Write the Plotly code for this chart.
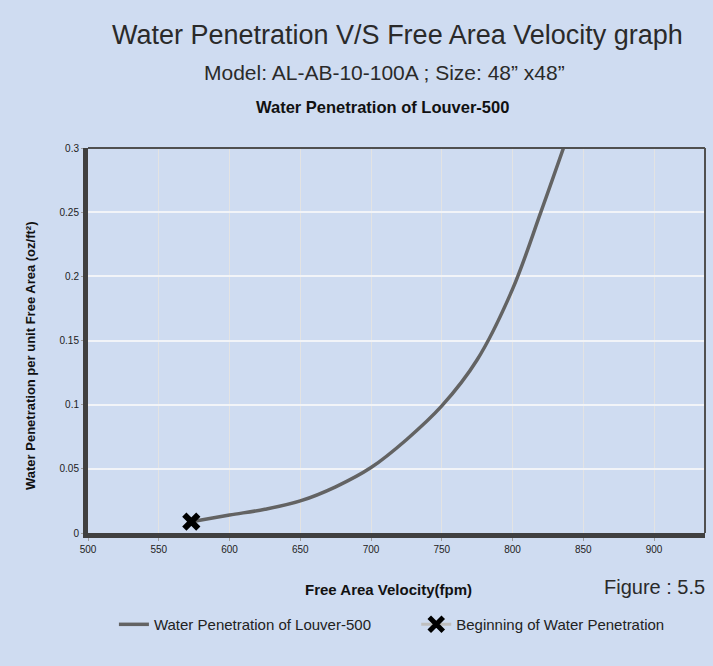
import plotly.graph_objects as go

# Data
velocity = [573, 600, 625, 650, 675, 700, 725, 750, 775, 800, 820, 836]
penetration = [0.0088, 0.014, 0.0185, 0.025, 0.036, 0.051, 0.0727, 0.099, 0.135, 0.19, 0.25, 0.30]
begin_velocity = [573]
begin_penetration = [0.0088]

x_ticks = [500, 550, 600, 650, 700, 750, 800, 850, 900]
y_ticks = [0, 0.05, 0.1, 0.15, 0.2, 0.25, 0.3]
y_labels = ["0", "0.05", "0.1", "0.15", "0.2", "0.25", "0.3"]

BG = "#CFDCF1"
FONT = "Liberation Sans, Arial, sans-serif"

fig = go.Figure()
fig.add_trace(go.Scatter(
    x=velocity, y=penetration, mode="lines", line_shape="spline",
    line=dict(color="#636363", width=3.5),
    name="Water Penetration of Louver-500", legend="legend",
))
fig.add_trace(go.Scatter(
    x=begin_velocity, y=begin_penetration, mode="lines+markers",
    line=dict(color="#BFBFBF", width=3),
    marker=dict(symbol="x-thin", size=14, color="black",
                line=dict(color="black", width=6)),
    name="Beginning of Water Penetration", legend="legend2",
))

legend_common = dict(orientation="h", yanchor="top", xanchor="left",
                     font=dict(size=15, color="#222222", family=FONT),
                     bgcolor="rgba(0,0,0,0)", itemwidth=30)

fig.update_layout(
    width=713, height=666,
    paper_bgcolor=BG, plot_bgcolor=BG,
    margin=dict(l=88, r=8, t=148, b=133),
    font=dict(family=FONT, color="#222222"),
    showlegend=True,
    legend=dict(x=0.042, y=-0.195, **legend_common),
    legend2=dict(x=0.532, y=-0.195, **legend_common),
    xaxis=dict(range=[500, 936], tickvals=x_ticks, ticktext=[str(v) for v in x_ticks],
               showgrid=True, gridcolor="#E3E3E3", gridwidth=1,
               showline=True, linecolor="#404040", linewidth=5, mirror=False,
               ticks="outside", ticklen=3, tickcolor="#A0A0A0",
               tickfont=dict(size=10, color="#222222"), zeroline=False),
    yaxis=dict(range=[0, 0.3], tickvals=y_ticks, ticktext=y_labels,
               showgrid=True, gridcolor="#F2F4F8", gridwidth=2,
               showline=True, linecolor="#404040", linewidth=5, mirror=False,
               ticks="outside", ticklen=2, tickcolor="#A0A0A0",
               tickfont=dict(size=10, color="#222222"), zeroline=False),
    shapes=[
        dict(type="line", xref="paper", yref="paper", x0=0, x1=1, y0=1, y1=1,
             line=dict(color="#505050", width=2)),
        dict(type="line", xref="paper", yref="paper", x0=1, x1=1, y0=0, y1=1,
             line=dict(color="#505050", width=2)),
    ],
    annotations=[
        dict(text="Water Penetration V/S Free Area Velocity graph", xref="paper", yref="paper",
             x=(397 - 88) / 617, y=1.0, yanchor="middle", yshift=148 - 35, showarrow=False,
             font=dict(size=27, color="#2a2a2a", family=FONT)),
        dict(text="Model: AL-AB-10-100A ; Size: 48” x48”", xref="paper", yref="paper",
             x=(384 - 88) / 617, y=1.0, yanchor="middle", yshift=148 - 72, showarrow=False,
             font=dict(size=21, color="#2a2a2a", family=FONT)),
        dict(text="<b>Water Penetration of Louver-500</b>", xref="paper", yref="paper",
             x=(382 - 88) / 617, y=1.0, yanchor="middle", yshift=148 - 107, showarrow=False,
             font=dict(size=16.5, color="#111111", family=FONT)),
        dict(text="<b>Free Area Velocity(fpm)</b>", xref="paper", yref="paper",
             x=(388 - 88) / 617, y=0, yanchor="middle", yshift=-(589 - 533), showarrow=False,
             font=dict(size=15, color="#111111", family=FONT)),
        dict(text="<b>Water Penetration per unit Free Area (oz/ft²)</b>", xref="paper", yref="paper",
             x=0, xanchor="center", xshift=30 - 88, y=(533 - 356) / 385, yanchor="middle",
             textangle=-90, showarrow=False,
             font=dict(size=13, color="#111111", family=FONT)),
        dict(text="Figure : 5.5", xref="paper", yref="paper",
             x=1.0, y=0, xanchor="right", yanchor="middle", yshift=-(587 - 533), xshift=2,
             showarrow=False, font=dict(size=20, color="#2a2a2a", family=FONT)),
    ],
)

fig.write_html(
    "out.html",
    config={"displayModeBar": False},
    post_script="document.body.style.margin='0';document.body.style.backgroundColor='%s';" % BG,
)
